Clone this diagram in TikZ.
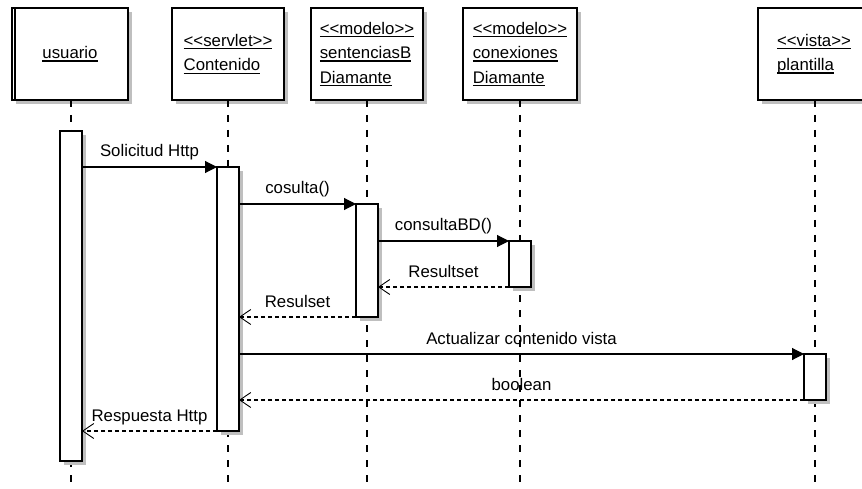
\documentclass[tikz,border=0pt]{standalone}
\usepackage{fontspec}
\setmainfont{Liberation Sans}[Ligatures=TeXOff]
\usetikzlibrary{arrows.meta,shadows}
\newcommand\ulx[1]{\setbox0\hbox{#1}\rlap{\rule[-3pt]{\wd0}{1.1pt}}\box0}
\tikzset{
  shd/.style={general shadow={fill=black!25, draw=none, shadow xshift=4pt, shadow yshift=-4pt}},
  headbox/.style={shd, draw, fill=white, line width=1.1pt, minimum width=114pt, minimum height=92pt,
                  inner sep=0pt, outer sep=0pt, align=left, font=\fontsize{16.8}{24.5}\selectfont},
  actbar/.style={shd, draw, fill=white, line width=1.1pt, minimum width=22pt, inner sep=0pt, outer sep=0pt, anchor=north},
  lifeline/.style={line width=1.1pt, dash pattern=on 7pt off 8pt},
  msg/.style={line width=1.1pt, -{Triangle[length=12pt,width=12pt]}},
  ret/.style={line width=1.1pt, dash pattern=on 4pt off 3pt, -{Straight Barb[length=11pt,width=15pt,line width=0.9pt]}},
  lbl/.style={font=\fontsize{16.8}{20}\selectfont, anchor=base, inner sep=0pt, yshift=10pt}
}
\begin{document}
\begin{tikzpicture}[x=1pt,y=-1pt]
\useasboundingbox (0,0) rectangle (862,489);
\clip (0,0) rectangle (862,489);
\fill[white] (0,0) rectangle (862,489);
\coordinate (bot) at (0,489);
% header boxes
\node[headbox, minimum width=116pt] (u) at (70,54) {\ulx{usuario}};
\draw[line width=1.1pt] ([xshift=3pt]u.north west) -- ([xshift=3pt]u.south west);
\node[headbox, minimum width=112pt] (c) at (228,54) {\ulx{<\kern0pt<servlet>\kern0pt>}\\\ulx{Contenido}};
\node[headbox, minimum width=112pt] (s) at (367,54) {\ulx{<\kern0pt<modelo>\kern0pt>}\\\ulx{sentenciasB}\\\ulx{Diamante}};
\node[headbox] (k) at (520,54) {\ulx{<\kern0pt<modelo>\kern0pt>}\\\ulx{conexiones}\\\ulx{Diamante}};
\node[headbox, minimum width=112pt] (p) at (814,54) {\ulx{<\kern0pt<vista>\kern0pt>}\\\ulx{plantilla}};
% lifelines
\draw[lifeline] (u.south -| 71,0) -- (71,0 |- bot);
\draw[lifeline] (c.south) -- (c.south |- bot);
\draw[lifeline] (s.south) -- (s.south |- bot);
\draw[lifeline] (k.south) -- (k.south |- bot);
\draw[lifeline] (p.south -| 815,0) -- (815,0 |- bot);
% activation bars
\node[actbar, minimum height=330pt] (au) at (71,131) {};
\node[actbar, minimum height=264pt] (ac) at (228,167) {};
\node[actbar, minimum height=113pt] (as) at (367,204) {};
\node[actbar, minimum height=46pt] (ak) at (520,241) {};
\node[actbar, minimum height=46pt] (ap) at (815,354) {};
% messages
\draw[msg] (au.east |- ac.north) -- (ac.north west) node[lbl, midway] (m1) {Solicitud Http};
\draw[msg] (ac.east |- as.north) -- (as.north west) node[lbl, midway] (m2) {cosulta()};
\draw[msg] (as.east |- ak.north) -- (ak.north west) node[lbl, midway] (m3) {consultaBD()};
\draw[ret] (ak.south west) -- (as.east |- ak.south) node[lbl, midway] (m4) {Resultset};
\draw[ret] (as.south west) -- (ac.east |- as.south) node[lbl, midway] (m5) {Resulset};
\draw[msg] (ac.east |- ap.north) -- (ap.north west) node[lbl, midway] (m6) {Actualizar contenido vista};
\draw[ret] (ap.south west) -- (ac.east |- ap.south) node[lbl, midway] (m7) {boolean};
\draw[ret] (ac.south west) -- (au.east |- ac.south) node[lbl, midway] (m8) {Respuesta Http};
\end{tikzpicture}
\end{document}
